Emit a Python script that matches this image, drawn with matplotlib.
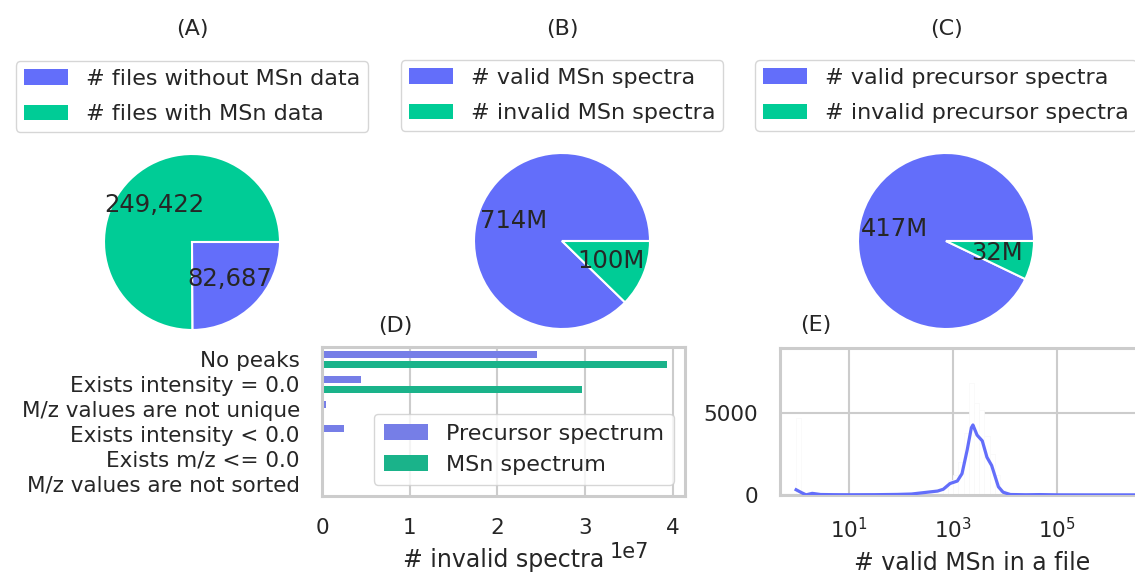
import numpy as np
import matplotlib
matplotlib.use("Agg")
import matplotlib.pyplot as plt
from matplotlib.patches import Patch
from matplotlib.ticker import NullLocator

# colours
BLUE = "#636EFA"
GREEN = "#00CC96"
BAR_BLUE = "#767EE7"
BAR_GREEN = "#1AB38A"
TXT = "#262626"
GRID = "#cccccc"

# (A) files
files_labels = ["# files without MSn data", "# files with MSn data"]
files_values = [82687, 249422]
files_text = ["82,687", "249,422"]

# (B) MSn spectra
msn_labels = ["# valid MSn spectra", "# invalid MSn spectra"]
msn_values = [714e6, 100e6]
msn_text = ["714M", "100M"]

# (C) precursor spectra
prec_labels = ["# valid precursor spectra", "# invalid precursor spectra"]
prec_values = [417e6, 32e6]
prec_text = ["417M", "32M"]

# (D) invalid reasons
reasons = ["No peaks", "Exists intensity = 0.0", "M/z values are not unique",
           "Exists intensity < 0.0", "Exists m/z <= 0.0", "M/z values are not sorted"]
invalid_precursor = [2.45e7, 0.45e7, 0.04e7, 0.25e7, 0, 0]
invalid_msn = [3.93e7, 2.97e7, 0, 0, 0, 0]

# (E) kde of valid MSn per file (log10 of count, density scaled to counts)
kde_log_x = [-0.02, 0.08, 0.17, 0.29, 0.45, 0.7, 1.0, 1.5, 1.92, 2.2, 2.42, 2.7,
             2.81, 2.94, 3.08, 3.17, 3.27, 3.35, 3.38, 3.46, 3.56, 3.65, 3.74,
             3.81, 3.87, 3.96, 4.1, 4.4, 4.67, 5.0, 5.5, 6.0, 6.5, 7.0]
kde_y = [320, 150, 10, 100, 30, 20, 15, 20, 35, 60, 140, 240,
         350, 700, 850, 1300, 2750, 4100, 4270, 3650, 3300, 2300, 1800,
         1100, 500, 170, 30, 15, 25, 10, 8, 8, 8, 8]
# histogram bars (log10 left edges, counts) - drawn white like the original
hist_log_edges = [-0.02, 2.8, 2.9, 3.0, 3.1, 3.2, 3.3, 3.4, 3.5, 3.6, 3.7, 3.8, 3.9]
hist_counts = [4700, 400, 900, 1200, 2000, 3800, 6800, 5600, 5200, 3600, 2500, 1200, 300]

W, H = 1135, 573
fig = plt.figure(figsize=(W / 100, H / 100), dpi=100)
plt.rcParams["font.family"] = ["DejaVu Sans"]


def px_axes(left, top, width, height):
    return fig.add_axes([left / W, (H - top - height) / H, width / W, height / H])


def pie_panel(cx, cy, r, values, texts, colors, labels, handle_colors, title):
    ax = px_axes(cx - r, cy - r, 2 * r, 2 * r)
    wedges, _ = ax.pie(values, colors=colors, startangle=0, counterclock=True,
                       wedgeprops=dict(edgecolor="white", linewidth=1.5))
    for w, t in zip(wedges, texts):
        ang = np.deg2rad((w.theta1 + w.theta2) / 2)
        ax.text(0.6 * np.cos(ang), 0.6 * np.sin(ang), t, ha="center", va="center",
                fontsize=17.5, color=TXT)
    ax.set_xlim(-1, 1)
    ax.set_ylim(-1, 1)
    handles = [Patch(facecolor=c, edgecolor="none") for c in handle_colors]
    leg = ax.legend(handles, labels, loc="lower center", bbox_to_anchor=(0.5, 1 + 11 / (2 * r)),
                    fontsize=16, frameon=True, fancybox=True, edgecolor=GRID,
                    handlelength=2.0, borderpad=0.35, labelspacing=0.68)
    for t in leg.get_texts():
        t.set_color(TXT)
    fig.text(cx / W, 1 - 29 / H, title, ha="center", va="center", fontsize=16, color=TXT)
    return ax


# A: green wedge is drawn first, blue ends up in the lower right quarter
pie_panel(192, 242, 88, files_values[::-1], files_text[::-1], [GREEN, BLUE],
          files_labels, [BLUE, GREEN], "(A)")
pie_panel(562, 241, 88, msn_values, msn_text, [BLUE, GREEN],
          msn_labels, [BLUE, GREEN], "(B)")
pie_panel(946, 241, 88, prec_values, prec_text, [BLUE, GREEN],
          prec_labels, [BLUE, GREEN], "(C)")


def style_axes(ax):
    for s in ax.spines.values():
        s.set_color(GRID)
        s.set_linewidth(2.2)
    ax.tick_params(length=0, labelsize=15.5, labelcolor=TXT, pad=16)
    ax.set_axisbelow(True)


# D: horizontal bars
axd = px_axes(322, 347, 363, 149)
style_axes(axd)
y = np.arange(len(reasons))
axd.barh(y - 0.2, invalid_precursor, height=0.28, color=BAR_BLUE, label="Precursor spectrum")
axd.barh(y + 0.2, invalid_msn, height=0.28, color=BAR_GREEN, label="MSn spectrum")
axd.set_yticks(y)
axd.set_yticklabels(reasons)
axd.set_ylim(len(reasons) - 0.5, -0.5)
axd.set_xlim(0, 4.14e7)
axd.set_xticks([0, 1e7, 2e7, 3e7, 4e7])
axd.grid(axis="x", color=GRID, linewidth=1.5)
axd.grid(axis="y", visible=False)
off = axd.xaxis.get_offset_text()
off.set_fontsize(15)
off.set_color(TXT)
off.set_x(0.9)
axd.set_xlabel("# invalid spectra", fontsize=17, color=TXT, labelpad=7)
leg = axd.legend(loc="lower right", fontsize=16, edgecolor=GRID, handlelength=2.0,
                 borderpad=0.45, labelspacing=0.5)
for t in leg.get_texts():
    t.set_color(TXT)
fig.text(395 / W, 1 - 326 / H, "(D)", ha="center", va="center", fontsize=16, color=TXT)

# E: distribution of valid MSn per file
axe = px_axes(780, 348, 385, 147)
style_axes(axe)
axe.set_xscale("log")
edges = np.array(hist_log_edges)
axe.bar(10 ** edges, hist_counts, width=10 ** (edges + 0.1) - 10 ** edges,
        align="edge", color="white", edgecolor="#f8f8f8", linewidth=0.5, zorder=1.5)
axe.plot(10 ** np.array(kde_log_x), kde_y, color=BLUE, linewidth=2.3, zorder=3)
axe.set_xlim(10 ** -0.33, 10 ** (-0.33 + 385 / 52))
axe.set_ylim(0, 8960)
axe.set_xticks([1e1, 1e3, 1e5])
axe.xaxis.set_minor_locator(NullLocator())
axe.set_yticks([0, 5000])
axe.grid(True, color=GRID, linewidth=1.5)
axe.set_xlabel("# valid MSn in a file", fontsize=17, color=TXT, labelpad=6)
fig.text(816 / W, 1 - 325 / H, "(E)", ha="center", va="center", fontsize=16, color=TXT)

fig.savefig("out.png", dpi=100, facecolor="white")
